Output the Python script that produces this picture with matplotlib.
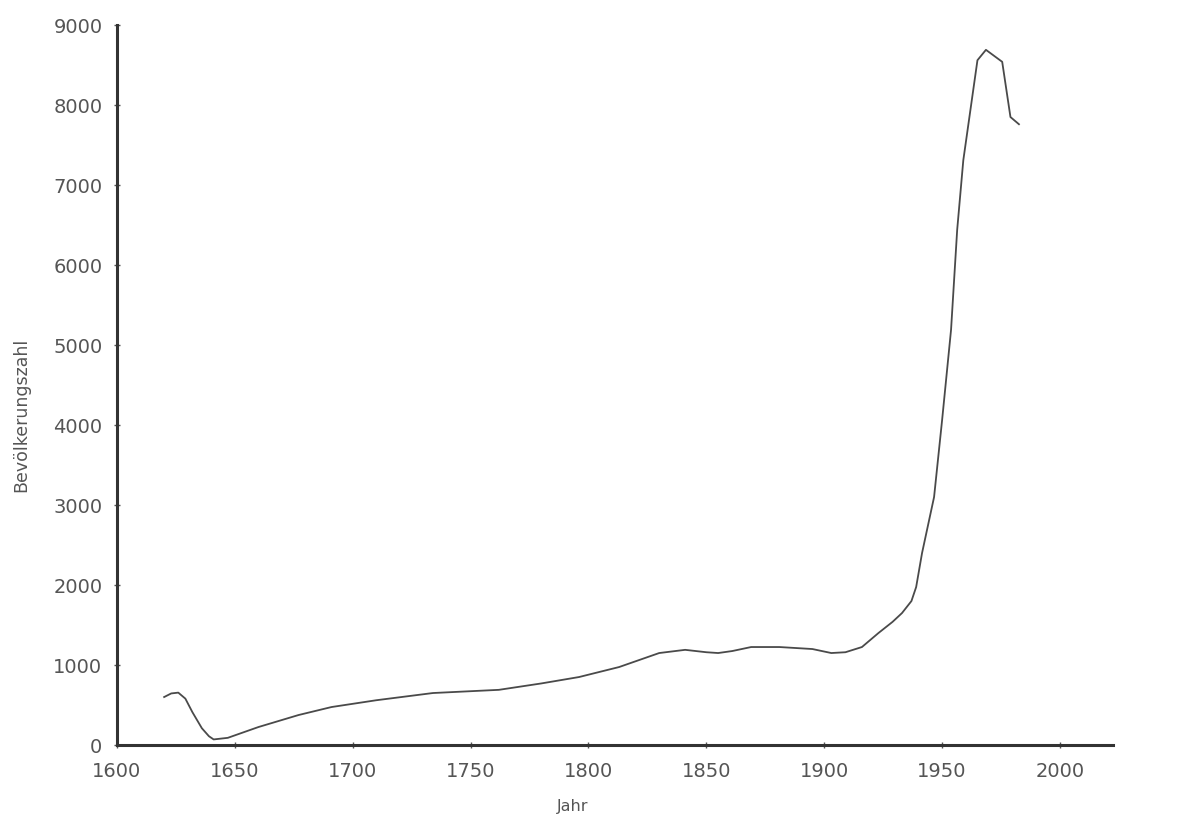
import matplotlib
matplotlib.use('Agg')
import matplotlib.pyplot as plt

# Bevoelkerungsentwicklung, Werte
jahre = [1620, 1623, 1626, 1629, 1632, 1636, 1639, 1641, 1647, 1660,
         1677, 1691, 1710, 1734, 1762, 1780, 1796, 1813, 1830, 1841,
         1850, 1855, 1861, 1869, 1881, 1895, 1899, 1903, 1909, 1916,
         1923, 1929, 1933, 1937, 1939, 1941.5, 1946.6, 1950, 1953.8,
         1956.4, 1959, 1965, 1968.6, 1975.5, 1979, 1982.6]
einwohner = [600, 645, 655, 580, 410, 210, 110, 70, 90, 225,
             375, 475, 560, 650, 690, 770, 850, 975, 1150, 1190,
             1160, 1150, 1175, 1225, 1225, 1200, 1175, 1150, 1160, 1225,
             1400, 1540, 1650, 1800, 1975, 2400, 3100, 4060, 5190,
             6440, 7310, 8560, 8690, 8540, 7850, 7760]

xticks = [1600, 1650, 1700, 1750, 1800, 1850, 1900, 1950, 2000]
yticks = [0, 1000, 2000, 3000, 4000, 5000, 6000, 7000, 8000, 9000]

fig = plt.figure(figsize=(12, 8.18), dpi=100)
ax = fig.add_axes([0.0975, 0.0892, 0.83, 0.8802])

ax.plot(jahre, einwohner, color='#4a4a4a', lw=1.3)

ax.set_xlim(1600, 2022.5)
ax.set_ylim(0, 9000)
ax.set_xticks(xticks)
ax.set_yticks(yticks)

for s in ['top', 'right']:
    ax.spines[s].set_visible(False)
ax.spines['left'].set_linewidth(2.2)
ax.spines['bottom'].set_linewidth(2.2)
ax.spines['left'].set_color('#333333')
ax.spines['bottom'].set_color('#333333')

ax.tick_params(axis='both', direction='inout', length=5, width=1,
               color='#555555', labelsize=14, labelcolor='#555555')
ax.tick_params(axis='x', pad=10)
ax.tick_params(axis='y', pad=8)

ax.set_ylabel('Bevölkerungszahl', fontsize=12.5, color='#555555')
ax.yaxis.set_label_coords(-0.087, 0.458)
ax.set_xlabel('Jahr', fontsize=11.5, color='#555555', va='center')
ax.xaxis.set_label_coords(0.457, -0.085)

fig.savefig('out.png', dpi=100, facecolor='white')
